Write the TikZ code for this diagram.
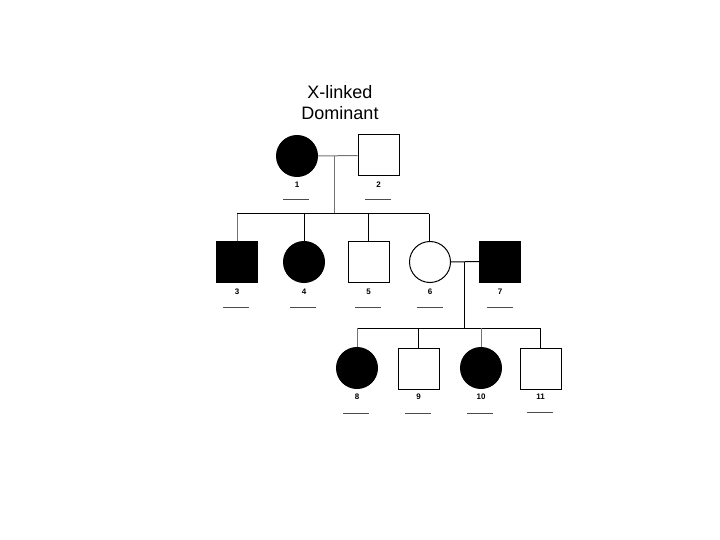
\documentclass[tikz,border=0pt]{standalone}
\usepackage{fontspec}
\setmainfont{Liberation Sans}
\begin{document}
\begin{tikzpicture}[x=1pt,y=-1pt,
  ln/.style={line width=1pt,draw=black},
  gln/.style={line width=1pt,draw=black!55},
  male/.style={draw=black,line width=1pt,minimum size=41pt,inner sep=0pt,rectangle},
  female/.style={draw=black,line width=1pt,minimum size=41pt,inner sep=0pt,circle},
  aff/.style={fill=black},
  lab/.style={font=\fontsize{8}{9}\selectfont\bfseries,inner sep=0pt},
  ul/.style={line width=1pt,draw=black!70}]
\useasboundingbox (0,0) rectangle (720,540);
\node[font=\fontsize{18}{21}\selectfont,align=center,inner sep=0pt] (title) at (340,103) {X-linked\\Dominant};
% generation I
\node[female,aff] (p1) at (297,156) {};
\node[male] (p2) at (378.5,155.5) {};
% generation II
\node[male,aff] (p3) at (237,262) {};
\node[female,aff] (p4) at (304,262) {};
\node[male] (p5) at (368.5,262) {};
\node[female] (p6) at (430,262) {};
\node[male,aff] (p7) at (500,261.5) {};
% generation III
\node[female,aff] (p8) at (357,368) {};
\node[male] (p9) at (418.5,368.5) {};
\node[female,aff] (p10) at (481,368) {};
\node[male] (p11) at (540.5,368.5) {};
% marriages and descent
\coordinate (m1) at (334,156);
\coordinate (s1) at (334,214);
\coordinate (s1l) at (237,214);
\coordinate (s1r) at (429,214);
\draw[gln] (p1) -- (p2);
\draw[gln] (m1) -- (s1);
\draw[ln] (s1l) -- (s1r);
\draw[gln] (s1l) -- (p3.north);
\draw[ln] (304,214) -- (p4.north);
\draw[ln] (368.5,214) -- (p5.north);
\draw[ln] (s1r) -- (p6.north -| s1r);
\coordinate (m2) at (464,262);
\coordinate (s2) at (464,328);
\coordinate (s2l) at (357,328);
\coordinate (s2r) at (540.5,328);
\draw[ln] (p6) -- (p7);
\draw[ln] (m2) -- (s2);
\draw[ln] (s2l) -- (s2r);
\draw[gln] (s2l) -- (p8.north);
\draw[ln] (418.5,328) -- (p9.north);
\draw[gln] (481,328) -- (p10.north);
\draw[ln] (s2r) -- (p11.north);
% labels
\foreach \n/\x/\y in {1/297/184.5,2/378.5/184.5,3/237/292,4/304/292,5/368.5/292,6/430/292,7/500/292,8/357/397,9/418.5/397,10/481/397,11/540.5/397}{
  \node[lab] (l\n) at (\x,\y) {\n};
}
\foreach \n/\x/\y in {1/296/199.5,2/378/199.5,3/236/307,4/303/307,5/368/307,6/430/307,7/500/307,8/356/413,9/418/413,10/480/413,11/540/412}{
  \draw[ul] (\x-13,\y) -- (\x+13,\y);
}
\end{tikzpicture}
\end{document}
